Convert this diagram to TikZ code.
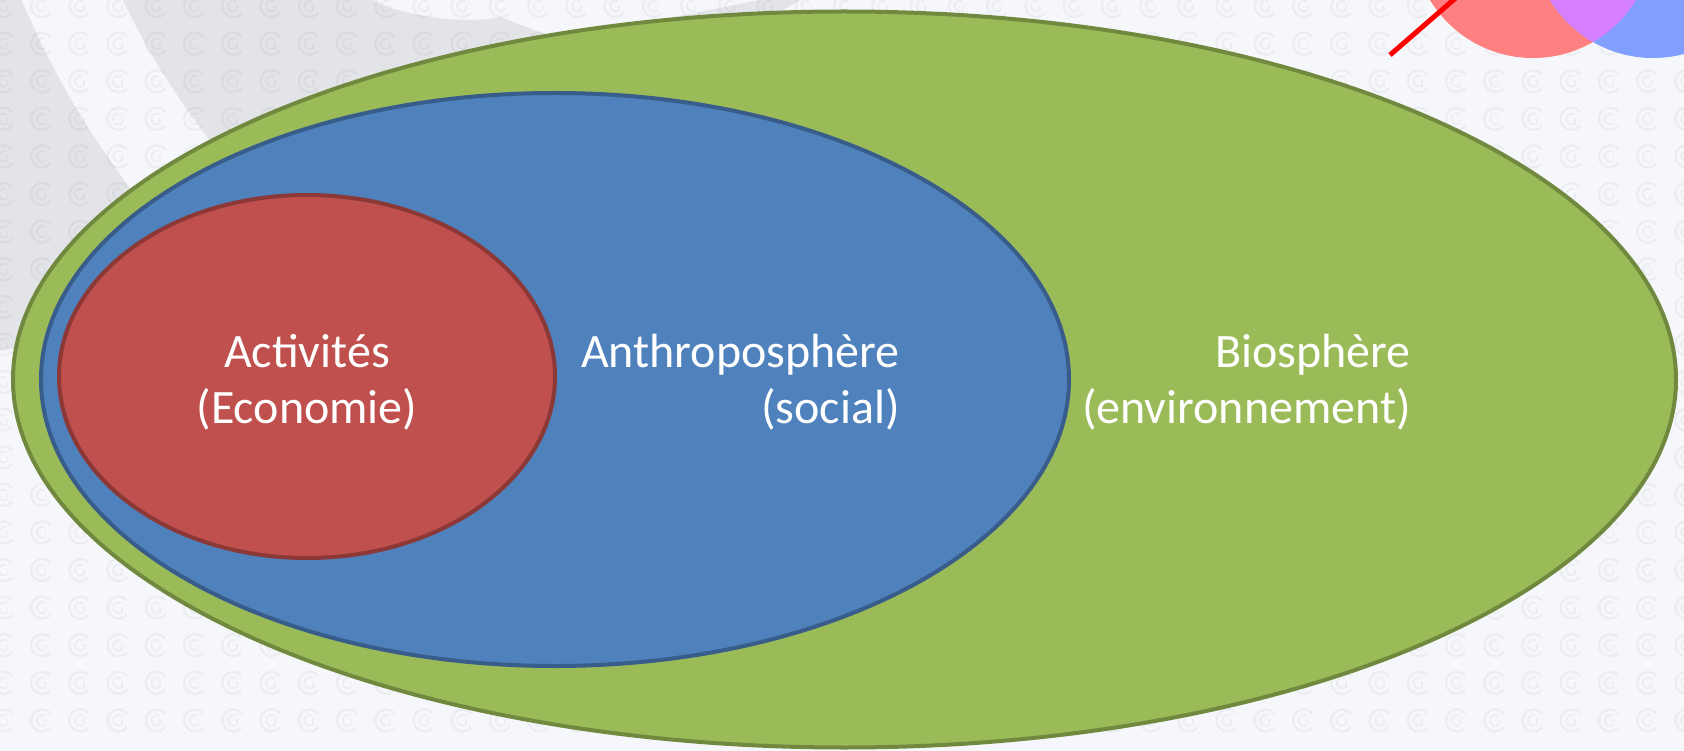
\documentclass[tikz,border=0pt]{standalone}
\usepackage{fontspec}
\setmainfont{Carlito}
\definecolor{bgl}{HTML}{F6F7FB}
\definecolor{bgg}{HTML}{E3E4E8}
\definecolor{gfill}{HTML}{9BBB59}
\definecolor{gline}{HTML}{71893F}
\definecolor{bfill}{HTML}{4F81BD}
\definecolor{bline}{HTML}{385D8A}
\definecolor{rfill}{HTML}{C0504D}
\definecolor{rline}{HTML}{8C3836}
\definecolor{cred}{HTML}{FF8080}
\definecolor{cblue}{HTML}{809FFF}
\definecolor{cpurp}{HTML}{D780FF}
\begin{document}
\begin{tikzpicture}[x=1pt,y=-1pt,
  lbl/.style={text=white,font=\fontsize{48}{56}\selectfont,inner sep=0pt},
  pat/.style={draw=black,draw opacity=0.04,line width=2.3pt},
  sphere/.style={line width=4pt}]
\useasboundingbox (0,0) rectangle (1684,751);
\fill[bgl] (0,0) rectangle (1684,751);
% grey backdrop with light swooshes
\fill[bgg] (0,0) -- (373,0) .. controls (405,18) and (470,24) .. (500,17) -- (560,40) -- (760,0) -- (800,0) -- (700,60) -- (300,320) -- (0,350) -- cycle;
\draw[bgl,line width=92pt] (55,-40) .. controls (95,60) and (150,160) .. (290,300);
% watermark pattern
\foreach \i in {0,...,44}{
  \foreach \j in {0,...,19}{
    \begin{scope}[shift={({3.8+38.24*\i},{6+37.6*\j})}]
      \draw[pat] (40:11pt) arc[start angle=40,end angle=320,radius=11pt];
      \draw[pat,line width=1.8pt] (60:5.5pt) arc[start angle=60,end angle=300,radius=5.5pt];
      \draw[pat,line width=1.6pt] (3.5,-1) -- (3.5,5);
    \end{scope}
  }
}
% top-right circles
\fill[cred] (1533,-62.5) circle[radius=120.5pt];
\fill[cblue] (1653,-62.5) circle[radius=120.5pt];
\begin{scope}
  \clip (1533,-62.5) circle[radius=120.5pt];
  \fill[cpurp] (1653,-62.5) circle[radius=120.5pt];
\end{scope}
\coordinate (ls) at (1390,55);
\coordinate (le) at (1466,-11);
\draw[red,line width=5pt] (ls) -- (le);
% spheres
\draw[sphere,fill=gfill,draw=gline] (844.5,379.5) ellipse[x radius=831.5pt,y radius=368pt];
\draw[sphere,fill=bfill,draw=bline] (555,379.5) ellipse[x radius=514pt,y radius=286.5pt];
\draw[sphere,fill=rfill,draw=rline] (307,376.5) ellipse[x radius=248pt,y radius=181.5pt];
% labels
\node[lbl,anchor=base] (act1) at (307,367) {Activités};
\node[lbl,anchor=base] (act2) at (307,423) {(Economie)};
\node[lbl,anchor=base east] (anth1) at (900,367) {Anthroposphère};
\node[lbl,anchor=base east] (anth2) at (900,423) {(social)};
\node[lbl,anchor=base east] (bio1) at (1411,367) {Biosphère};
\node[lbl,anchor=base east] (bio2) at (1411,423) {(environnement)};
\end{tikzpicture}
\end{document}
